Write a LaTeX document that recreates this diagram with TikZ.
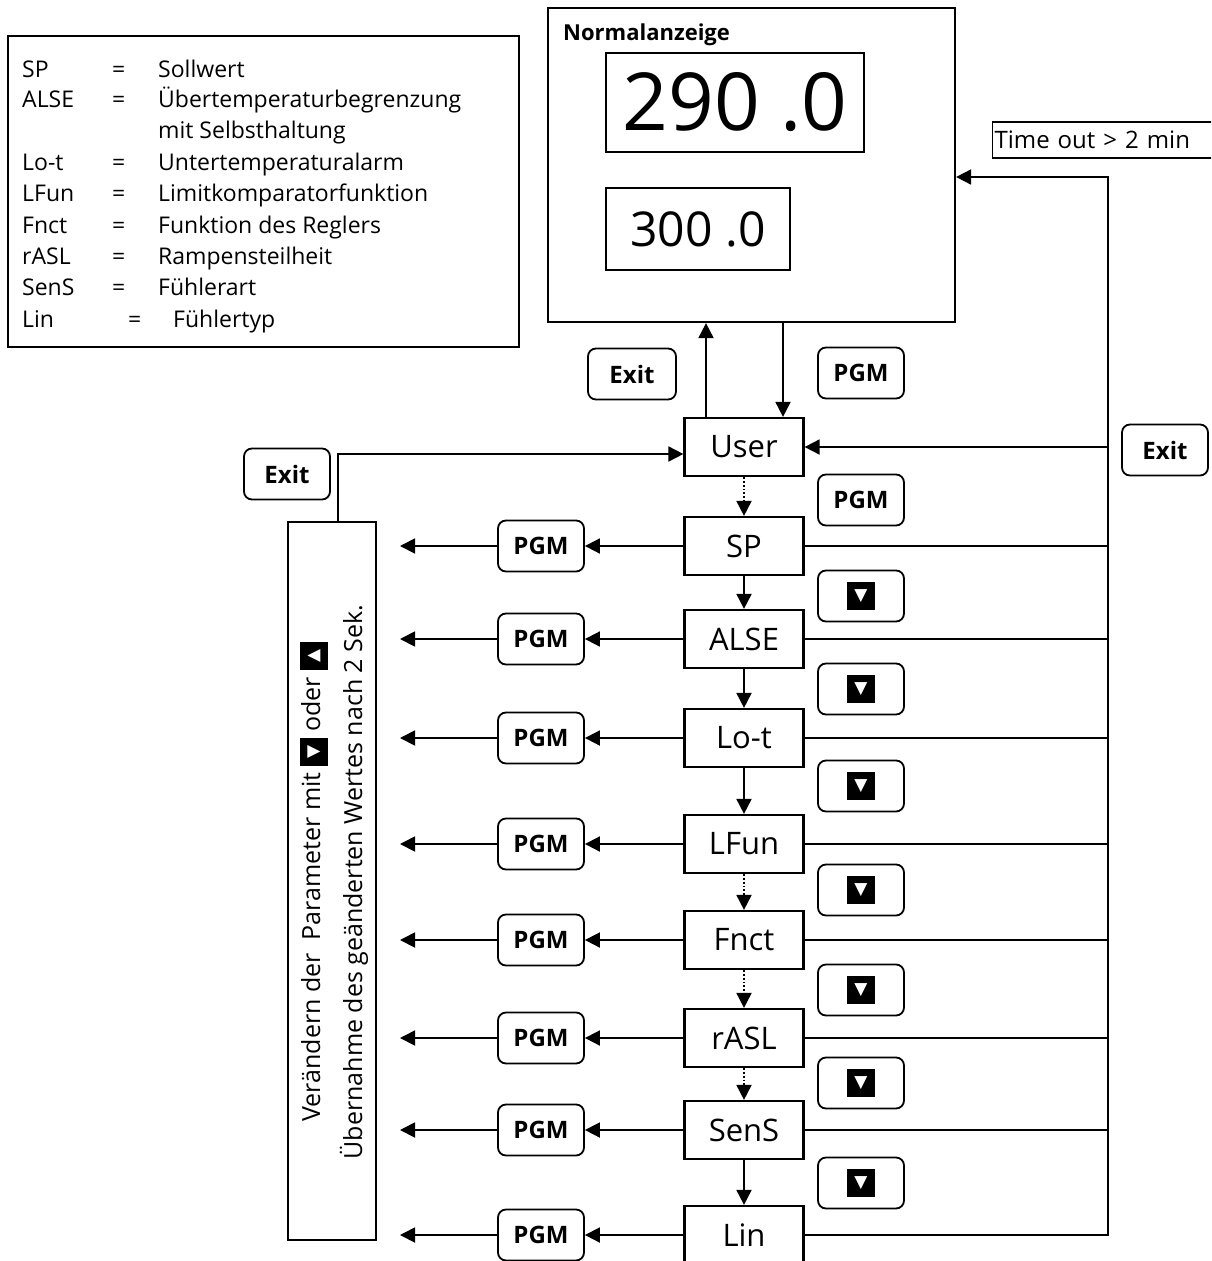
\documentclass[tikz,border=0pt]{standalone}
\usepackage{fontspec}
\setmainfont{Open Sans}
\newfontfamily\symfont{DejaVu Sans}
\usetikzlibrary{arrows.meta,positioning}
\newcommand{\keysym}[1]{{\setlength{\fboxsep}{0pt}\colorbox{black}{\parbox[c][28pt][c]{28pt}{\centering\textcolor{white}{\symfont\fontsize{17}{17}\selectfont #1}}}}}

\begin{document}
\begin{tikzpicture}[x=1pt,y=-1pt,
      menu/.style={draw,line width=2.2pt,minimum width=119pt,minimum height=58pt,
                   inner sep=0pt,font=\fontsize{31}{34}\selectfont},
      keybtn/.style={draw,line width=1.8pt,rounded corners=8pt,minimum width=86pt,
                     minimum height=51pt,inner sep=0pt,font=\fontsize{24}{26}\selectfont\bfseries},
      frame/.style={draw,line width=2.2pt,inner sep=0pt},
      legtxt/.style={anchor=base west,inner sep=0pt,font=\fontsize{23}{26}\selectfont},
      arr/.style={-{Triangle[length=15pt,width=15pt]},line width=1.8pt},
      darr/.style={arr,dotted}]
    \clip (0,0) rectangle (1211,1261);
    % legend
    \node[frame,line width=2pt,anchor=north west,minimum width=511pt,minimum height=311pt] (legend) at (7,35) {};
    \foreach \abbr/\desc/\yy [count=\i] in {SP/Sollwert/77, ALSE/Übertemperaturbegrenzung/107,
        Lo-t/Untertemperaturalarm/170, LFun/Limitkomparatorfunktion/201.5,
        Fnct/Funktion des Reglers/233, rASL/Rampensteilheit/264, SenS/Fühlerart/295}{
      \node[legtxt] (ab\i) at (22,\yy) {\abbr};
      \node[legtxt] (eq\i) at (112,\yy) {=};
      \node[legtxt] (de\i) at (158,\yy) {\desc};
    }
    \node[legtxt] (de2b) at (158,138) {mit Selbsthaltung};
    \node[legtxt] (ab8) at (22,327) {Lin};
    \node[legtxt] (eq8) at (128,327) {=};
    \node[legtxt] (de8) at (173,327) {Fühlertyp};
    % display
    \node[frame,minimum width=407pt,minimum height=314pt] (normal) at (751.5,165) {};
    \node[anchor=west,inner sep=0pt,font=\fontsize{22}{24}\selectfont\bfseries] (title) at (563,35) {Normalanzeige};
    \node[draw,line width=1.5pt,minimum width=258pt,minimum height=99pt,inner sep=0pt,
          font=\fontsize{80}{80}\selectfont] (pv) at (735,102.5) {290 .0};
    \node[draw,line width=1.5pt,minimum width=184pt,minimum height=82pt,inner sep=0pt,
          font=\fontsize{48}{48}\selectfont] (sv) at (698,229) {300 .0};
    \node[draw,line width=1.2pt,anchor=west,minimum height=36pt,text width=236pt,inner xsep=2pt,
          align=left,font=\fontsize{24}{26}\selectfont] (timeout) at (992,140) {Time out > 2 min};
    % buttons
    \node[keybtn,minimum width=88pt] (exit-top) at (632,374) {Exit};
    \node[keybtn] (pgm-top) at (861,373) {PGM};
    \node[keybtn] (pgm-user) at (861,500) {PGM};
    \node[keybtn] (exit-right) at (1165,450) {Exit};
    \node[keybtn] (exit-left) at (287,474) {Exit};
    % menu column
    \node[menu] (user) at (744,447) {User};
    \foreach \name/\txt/\yy in {sp/SP/546, alse/ALSE/639, lot/Lo-t/738, lfun/LFun/844,
        fnct/Fnct/940, rasl/rASL/1038, sens/SenS/1130, lin/Lin/1235}{
      \node[menu] (\name) at (744,\yy) {\txt};
      \node[keybtn] (pgm-\name) at (541,\yy) {PGM};
      \coordinate (out-\name) at (400,\yy);
      \draw[arr] (\name) -- (pgm-\name);
      \draw[arr] (pgm-\name) -- (out-\name);
    }
    \foreach \yy [count=\k] in {596,689,786,890,990,1083,1183}
      \node[keybtn] (down\k) at (861,\yy) {\keysym{▼}};
    \draw[darr] (user) -- (sp);
    \draw[arr] (sp) -- (alse);
    \draw[arr] (alse) -- (lot);
    \draw[arr] (lot) -- (lfun);
    \draw[darr] (lfun) -- (fnct);
    \draw[darr] (fnct) -- (rasl);
    \draw[darr] (rasl) -- (sens);
    \draw[arr] (sens) -- (lin);
    % return paths
    \coordinate (tt) at (1108,177);
    \draw[arr] (lin.east) -| (tt) -- (tt -| normal.east);
    \foreach \name in {sp,alse,lot,lfun,fnct,rasl,sens}
      \draw[line width=1.8pt] (\name.east) -- (\name.east -| tt);
    \draw[arr] (user.east -| tt) -- (user.east);
    \draw[arr] ([xshift=-38pt]user.north) -- ([xshift=-38pt]user.north |- normal.south);
    \draw[arr] ([xshift=39pt]user.north |- normal.south) -- ([xshift=39pt]user.north);
    % parameter panel
    \node[frame,minimum width=88pt,minimum height=718pt] (panel) at (332,881) {};
    \node[rotate=90,align=center,inner sep=0pt,font=\fontsize{25}{42}\selectfont] (hint) at (334,882)
      {Verändern der\ \ Parameter mit \keysym{▼} oder \keysym{▲}\\
       Übernahme des geänderten Wertes nach 2 Sek.};
    \draw[arr] ([xshift=6pt]panel.north) |- ([yshift=-7pt]user.west);
  \end{tikzpicture}
\end{document}
